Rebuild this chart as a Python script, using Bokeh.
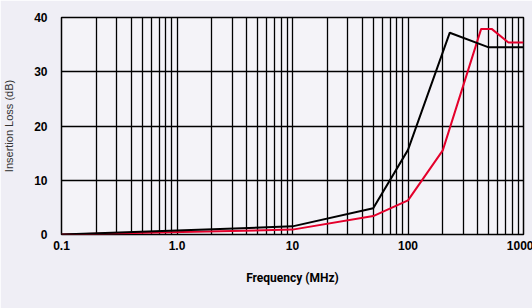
from bokeh.plotting import figure
from bokeh.models import FixedTicker, Legend, LegendItem, Range1d
from bokeh.embed import file_html
from bokeh.resources import INLINE

# Insertion loss vs frequency, two capacitance values
freq_50pf = [0.1, 10, 50, 100, 200, 430, 530, 740, 1000]
loss_50pf = [0.0, 0.9, 3.4, 6.3, 15.5, 37.9, 37.9, 35.4, 35.4]

freq_470pf = [0.1, 10, 50, 100, 230, 500, 1000]
loss_470pf = [0.0, 1.5, 4.85, 15.6, 37.2, 34.5, 34.5]

x_major_ticks = [0.1, 1, 10, 100, 1000]
x_tick_labels = ["0.1", "1.0", "10", "100", "1000"]
y_ticks = [0, 10, 20, 30, 40]

x_minor_ticks = [m * 10.0 ** e for e in range(-1, 3) for m in range(2, 10)]

p = figure(frame_width=462, frame_height=217, x_axis_type="log",
           x_range=Range1d(0.1, 1000), y_range=Range1d(0, 40),
           output_backend="svg", toolbar_location=None,
           min_border_left=60, min_border_right=10, min_border_top=17,
           min_border_bottom=40)

p.background_fill_color = "#f4f3f8"
p.border_fill_color = "#efeef5"
p.outline_line_color = "black"
p.outline_line_width = 1.5

p.xaxis.ticker = FixedTicker(ticks=x_major_ticks, minor_ticks=x_minor_ticks)
p.xaxis.major_label_overrides = {t: l for t, l in zip(x_major_ticks, x_tick_labels)}
p.yaxis.ticker = FixedTicker(ticks=y_ticks)

for ax in (p.xaxis, p.yaxis):
    ax.axis_line_color = None
    ax.major_tick_line_color = None
    ax.minor_tick_line_color = None
    ax.major_label_text_font = "Liberation Sans"
    ax.major_label_text_font_style = "bold"
    ax.major_label_text_font_size = "12px"
    ax.major_label_text_color = "black"

p.yaxis.major_label_standoff = 8
p.xaxis.major_label_standoff = 0

p.yaxis.axis_label = "Insertion Loss (dB)"
p.yaxis.axis_label_text_font = "Liberation Sans"
p.yaxis.axis_label_text_font_style = "normal"
p.yaxis.axis_label_text_font_size = "11px"
p.yaxis.axis_label_text_color = "#333333"
p.yaxis.axis_label_standoff = 16

p.xaxis.axis_label = "Frequency (MHz)"
p.xaxis.axis_label_text_font = "Roboto"
p.xaxis.axis_label_text_font_style = "bold"
p.xaxis.axis_label_text_font_size = "12px"
p.xaxis.axis_label_text_color = "black"
p.xaxis.axis_label_standoff = 18

p.xgrid.grid_line_color = "black"
p.xgrid.grid_line_width = 1.3
p.xgrid.minor_grid_line_color = "black"
p.xgrid.minor_grid_line_width = 1.3
p.ygrid.grid_line_color = "black"
p.ygrid.grid_line_width = 1.3

r50 = p.line(freq_50pf, loss_50pf, line_color="#e4002b", line_width=2)
r470 = p.line(freq_470pf, loss_470pf, line_color="black", line_width=2)

legend = Legend(items=[LegendItem(label="50 pF  -  470 pF", renderers=[r50]),
                       LegendItem(label="", renderers=[r470])],
                location="center", orientation="horizontal",
                glyph_width=35, glyph_height=15, label_height=15,
                label_standoff=16, spacing=14, label_width=0,
                padding=0, margin=0, border_line_color=None,
                background_fill_alpha=0,
                label_text_font="Roboto", label_text_line_height=1.0,
                label_text_font_size="15px", label_text_font_style="bold")
p.add_layout(legend, "below")

open("out.html", "w").write(file_html(p, INLINE))
